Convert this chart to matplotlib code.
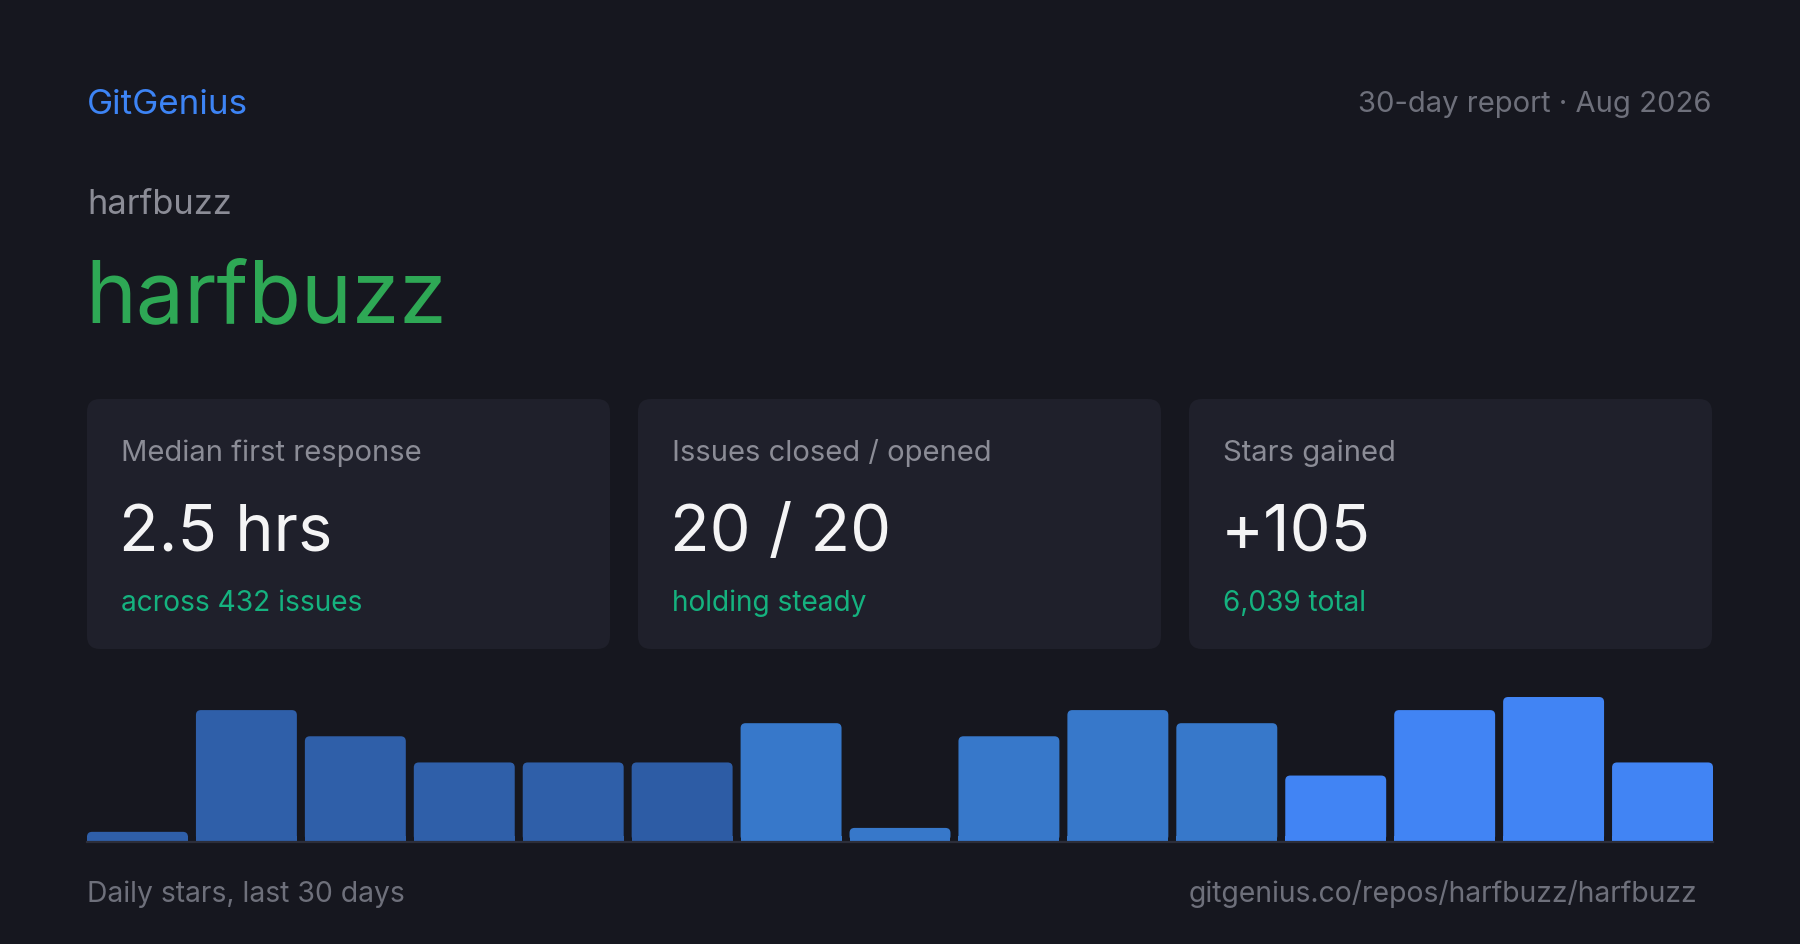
import matplotlib
matplotlib.use("Agg")
import matplotlib.pyplot as plt
from matplotlib.patches import FancyBboxPatch, Rectangle

# data
brand = "GitGenius"
report_label = "30-day report · Aug 2026"
owner = "harfbuzz"
repo = "harfbuzz"
card_labels = ["Median first response", "Issues closed / opened", "Stars gained"]
card_values = ["2.5 hrs", "20 / 20", "+105"]
card_notes = ["across 432 issues", "holding steady", "6,039 total"]
daily_stars = [0.7, 10, 8, 6, 6, 6, 9, 1, 8, 10, 9, 5, 10, 11, 6]
bar_colors = ["#2f5fa9"] * 5 + ["#2d5ca5"] + ["#3778ca"] * 5 + ["#4184f4"] * 4
footer_left = "Daily stars, last 30 days"
footer_right = "gitgenius.co/repos/harfbuzz/harfbuzz"

W, H = 1800, 945
BG = "#16171f"
CARD = "#1f202b"
GRAY = "#8b8c96"
DIM = "#6e707b"

plt.rcParams["font.family"] = ["Inter", "DejaVu Sans"]

fig = plt.figure(figsize=(W / 100, H / 100), dpi=100, facecolor=BG)

# pixel-space canvas for text and cards
ax0 = fig.add_axes([0, 0, 1, 1])
ax0.set_xlim(0, W)
ax0.set_ylim(H, 0)
ax0.axis("off")
ax0.set_facecolor(BG)

def px(s):
    return s * 0.72

ax0.text(87, 114, brand, color="#3d84f5", fontsize=px(35), va="baseline")
ax0.text(1712, 112, report_label, color=DIM, fontsize=px(29.2), va="baseline", ha="right")
ax0.text(87, 214, owner, color=GRAY, fontsize=px(34.4), va="baseline")
ax0.text(85, 322, repo, color="#2ea855", fontsize=px(86), va="baseline")

card_x = [87, 638, 1189]
card_w, card_top, card_h = 523, 400, 250
for x, lab, val, note in zip(card_x, card_labels, card_values, card_notes):
    ax0.add_patch(FancyBboxPatch((x, card_top), card_w, card_h,
                                 boxstyle="round,pad=0,rounding_size=13",
                                 facecolor=CARD, edgecolor="none"))
    ax0.text(x + 34, 461, lab, color=GRAY, fontsize=px(29.2), va="baseline")
    ax0.text(x + 32, 551, val, color="#f4f4f5", fontsize=px(65), va="baseline")
    ax0.text(x + 34, 611, note, color="#15b27f", fontsize=px(28.1), va="baseline")

ax0.text(87, 902, footer_left, color=DIM, fontsize=px(28.3), va="baseline")
ax0.text(1697, 902, footer_right, color=DIM, fontsize=px(28.3), va="baseline", ha="right")

# bar chart
base_y, top_y = 842, 698
x_left, x_right = 87, 1713
ax = fig.add_axes([x_left / W, (H - base_y) / H, (x_right - x_left) / W, (base_y - top_y) / H])
ax.set_facecolor("none")
n = len(daily_stars)
bw = 101 / 109
ax.set_xlim(-bw / 2, n - 1 + bw / 2)
ax.set_ylim(0, max(daily_stars))
xs = list(range(n))
bars = ax.bar(xs, daily_stars, width=bw, color=bar_colors)

# rounded tops
ppu_x = (x_right - x_left) / (n - 1 + bw)
ppu_y = (base_y - top_y) / max(daily_stars)
r = 5
for b, c in zip(bars, bar_colors):
    b.set_visible(False)
    bx, bwid, bh = b.get_x(), b.get_width(), b.get_height()
    ax.add_patch(FancyBboxPatch((bx, 0), bwid, bh,
                                boxstyle=f"round,pad=0,rounding_size={r / ppu_x}",
                                mutation_aspect=ppu_x / ppu_y,
                                facecolor=c, edgecolor="none"))
    ax.add_patch(Rectangle((bx, 0), bwid, min(bh / 2, r / ppu_y),
                           facecolor=c, edgecolor="none"))

for s in ["top", "left", "right"]:
    ax.spines[s].set_visible(False)
ax.spines["bottom"].set_color("#2c2e3a")
ax.spines["bottom"].set_linewidth(1.6)
ax.spines["bottom"].set_position(("outward", 0.7))
ax.set_xticks([])
ax.set_yticks([])

fig.savefig("out.png", dpi=100, facecolor=BG)
